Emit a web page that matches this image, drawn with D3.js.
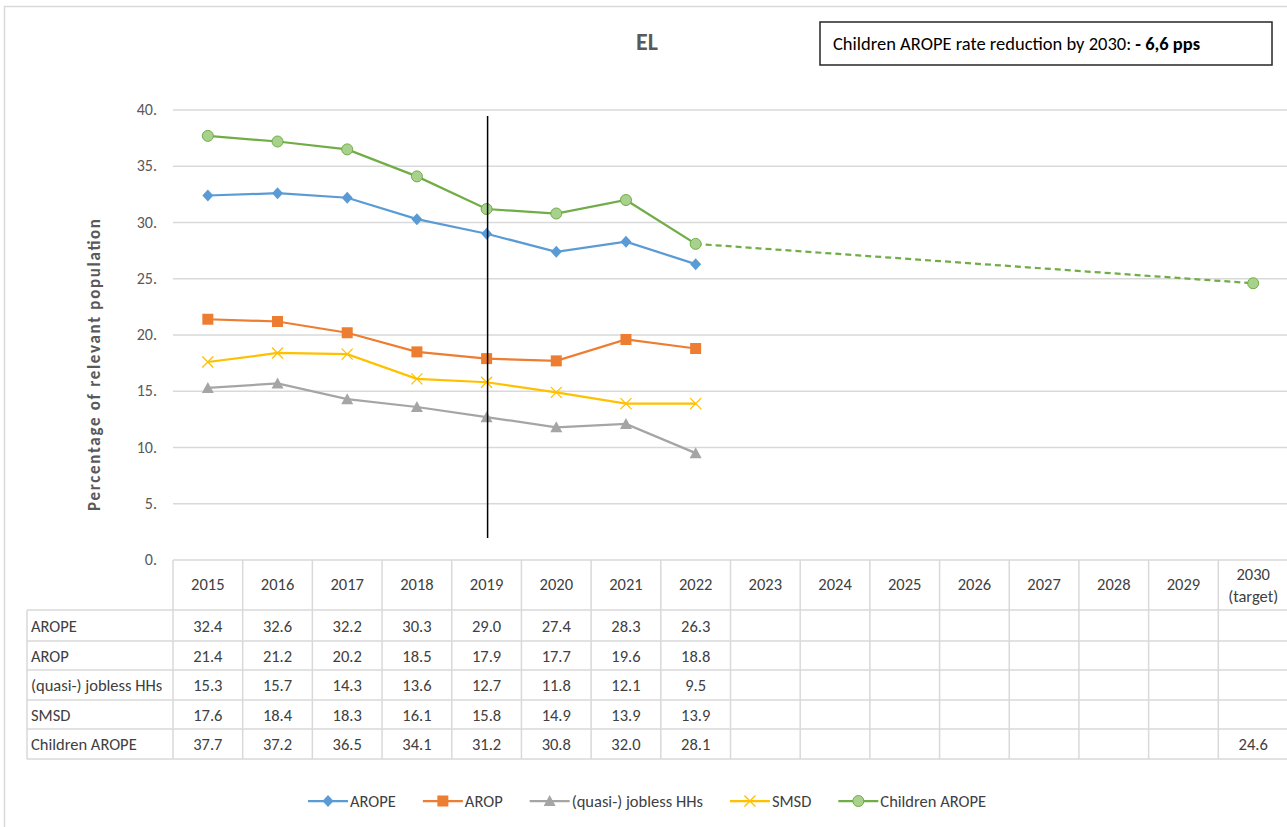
<!DOCTYPE html>
<html>
<head>
<meta charset="utf-8">
<script src="https://cdn.jsdelivr.net/npm/d3@7"></script>
<style>
  body { margin: 0; background: #fff; }
  svg { display: block; font-family: Carlito, Calibri, Lato, sans-serif; }
</style>
</head>
<body>
<div id="chart"></div>
<script>
const years = ['2015', '2016', '2017', '2018', '2019', '2020', '2021', '2022',
  '2023', '2024', '2025', '2026', '2027', '2028', '2029', '2030'];
const yTicks = [0, 5, 10, 15, 20, 25, 30, 35, 40];

const arope = [32.4, 32.6, 32.2, 30.3, 29.0, 27.4, 28.3, 26.3];
const arop = [21.4, 21.2, 20.2, 18.5, 17.9, 17.7, 19.6, 18.8];
const jobless = [15.3, 15.7, 14.3, 13.6, 12.7, 11.8, 12.1, 9.5];
const smsd = [17.6, 18.4, 18.3, 16.1, 15.8, 14.9, 13.9, 13.9];
const children = [37.7, 37.2, 36.5, 34.1, 31.2, 30.8, 32.0, 28.1];
const childrenTarget = 24.6;
const targetYear = '2030';
const markerYear = '2019';

const series = [
  { name: 'AROPE', values: arope, color: '#5B9BD5', symbol: 'diamond' },
  { name: 'AROP', values: arop, color: '#ED7D31', symbol: 'square' },
  { name: '(quasi-) jobless HHs', values: jobless, color: '#A5A5A5', symbol: 'triangle' },
  { name: 'SMSD', values: smsd, color: '#FFC000', symbol: 'cross' },
  { name: 'Children AROPE', values: children, color: '#70AD47', symbol: 'circle' }
];

const width = 1287;
const height = 827;
const textColor = '#404040';
const gridColor = '#d9d9d9';
const fs = 16.5;

const svg = d3.select('#chart').append('svg')
  .attr('width', width)
  .attr('height', height);

// outer chart frame
svg.append('rect')
  .attr('x', 4.5).attr('y', 6.5)
  .attr('width', width + 10).attr('height', height + 10)
  .attr('fill', 'none').attr('stroke', gridColor).attr('stroke-width', 1.5);

const x = d3.scaleBand().domain(years).range([173, 1288]);
const cx = yr => x(yr) + x.bandwidth() / 2;
const y = d3.scaleLinear().domain([0, 40]).range([560, 110]);

// gridlines
svg.append('g')
  .selectAll('line')
  .data(yTicks.filter(d => d > 0))
  .join('line')
  .attr('x1', 173).attr('x2', width)
  .attr('y1', d => y(d)).attr('y2', d => y(d))
  .attr('stroke', gridColor).attr('stroke-width', 1.3);

// y labels
svg.append('g')
  .selectAll('text')
  .data(yTicks)
  .join('text')
  .attr('x', 157)
  .attr('y', d => y(d) + 5)
  .attr('text-anchor', 'end')
  .attr('font-size', 16)
  .attr('fill', '#595959')
  .text(d => d + '.');

svg.append('text')
  .attr('transform', 'translate(100,365) rotate(-90)')
  .attr('text-anchor', 'middle')
  .attr('font-size', 17)
  .attr('font-weight', 'bold')
  .attr('fill', '#595959')
  .attr('textLength', 292)
  .attr('lengthAdjust', 'spacing')
  .text('Percentage of relevant population');

// title
svg.append('text')
  .attr('x', 647).attr('y', 50)
  .attr('text-anchor', 'middle')
  .attr('font-size', 24)
  .attr('font-weight', 'bold')
  .attr('fill', '#595959')
  .text('EL');

svg.append('rect')
  .attr('x', 820).attr('y', 22)
  .attr('width', 452).attr('height', 43)
  .attr('fill', '#fff').attr('stroke', '#262626').attr('stroke-width', 1.5);

const note = svg.append('text')
  .attr('x', 833).attr('y', 50)
  .attr('font-size', 18.5)
  .attr('fill', '#000');
note.append('tspan').text('Children AROPE rate reduction by 2030: ');
note.append('tspan').attr('font-weight', 'bold').text('- 6,6 pps');

// table
const rowTops = [610, 641, 670, 700, 729];
const rowH = [31, 29, 30, 29, 30];
const table = svg.append('g');
const tableLine = (x1, y1, x2, y2) => table.append('line')
  .attr('x1', x1).attr('y1', y1).attr('x2', x2).attr('y2', y2)
  .attr('stroke', gridColor).attr('stroke-width', 1.5);

tableLine(173, 560, width + 5, 560);
rowTops.forEach(t => tableLine(27, t, width + 5, t));
tableLine(27, 759, width + 5, 759);
tableLine(27, 610, 27, 759);
years.forEach(yr => tableLine(x(yr), 560, x(yr), 759));

table.selectAll('.hdr')
  .data(years)
  .join('text')
  .attr('class', 'hdr')
  .attr('x', d => cx(d))
  .attr('y', d => d === targetYear ? 580 : 590)
  .attr('text-anchor', 'middle')
  .attr('font-size', fs)
  .attr('fill', textColor)
  .text(d => d);

table.append('text')
  .attr('x', cx(targetYear)).attr('y', 602)
  .attr('text-anchor', 'middle')
  .attr('font-size', fs)
  .attr('fill', textColor)
  .text('(target)');

series.forEach((s, i) => {
  const base = rowTops[i] + rowH[i] / 2 + 6;
  table.append('text')
    .attr('x', 31).attr('y', base)
    .attr('font-size', fs)
    .attr('fill', textColor)
    .text(s.name);
  table.selectAll(null)
    .data(s.values)
    .join('text')
    .attr('x', (d, j) => cx(years[j]))
    .attr('y', base)
    .attr('text-anchor', 'middle')
    .attr('font-size', fs)
    .attr('fill', textColor)
    .text(d => d.toFixed(1));
});
table.append('text')
  .attr('x', cx(targetYear)).attr('y', rowTops[4] + rowH[4] / 2 + 6)
  .attr('text-anchor', 'middle')
  .attr('font-size', fs)
  .attr('fill', textColor)
  .text(childrenTarget.toFixed(1));

// markers
const drawMarker = (g, s, px, py) => {
  if (s.symbol === 'diamond') {
    g.append('path')
      .attr('d', `M${px},${py - 6}L${px + 5.5},${py}L${px},${py + 6}L${px - 5.5},${py}Z`)
      .attr('fill', s.color);
  } else if (s.symbol === 'square') {
    g.append('rect')
      .attr('x', px - 5.5).attr('y', py - 5.5).attr('width', 11).attr('height', 11)
      .attr('fill', s.color);
  } else if (s.symbol === 'triangle') {
    g.append('path')
      .attr('d', `M${px},${py - 6}L${px + 6},${py + 5}L${px - 6},${py + 5}Z`)
      .attr('fill', s.color);
  } else if (s.symbol === 'cross') {
    g.append('path')
      .attr('d', `M${px - 5.5},${py - 5.5}L${px + 5.5},${py + 5.5}M${px - 5.5},${py + 5.5}L${px + 5.5},${py - 5.5}`)
      .attr('stroke', s.color).attr('stroke-width', 1.3);
  } else {
    g.append('circle')
      .attr('cx', px).attr('cy', py).attr('r', 5.5)
      .attr('fill', '#A9D18E').attr('stroke', s.color).attr('stroke-width', 1);
  }
};

const line = d3.line()
  .x((d, j) => cx(years[j]))
  .y(d => y(d));

const plot = svg.append('g');

// projection to 2030 target
const last = children.length - 1;
plot.append('line')
  .attr('x1', cx(years[last])).attr('y1', y(children[last]))
  .attr('x2', cx(targetYear)).attr('y2', y(childrenTarget))
  .attr('stroke', '#70AD47').attr('stroke-width', 2.25)
  .attr('stroke-dasharray', '6,4');

series.forEach(s => {
  const g = plot.append('g');
  g.append('path')
    .datum(s.values)
    .attr('d', line)
    .attr('fill', 'none')
    .attr('stroke', s.color)
    .attr('stroke-width', 2.25);
  s.values.forEach((v, j) => drawMarker(g, s, cx(years[j]), y(v)));
});
drawMarker(plot, series[4], cx(targetYear), y(childrenTarget));

// vertical line at 2019
plot.append('line')
  .attr('x1', cx(markerYear) + 1).attr('x2', cx(markerYear) + 1)
  .attr('y1', 116).attr('y2', 538)
  .attr('stroke', '#000').attr('stroke-width', 1.5);

// legend
const legend = svg.append('g');
let lx = 308;
series.forEach(s => {
  const g = legend.append('g');
  g.append('line')
    .attr('x1', lx).attr('x2', lx + 40)
    .attr('y1', 801).attr('y2', 801)
    .attr('stroke', s.color).attr('stroke-width', 2.25);
  drawMarker(g, s, lx + 20, 801);
  const t = g.append('text')
    .attr('x', lx + 42).attr('y', 807)
    .attr('font-size', fs)
    .attr('fill', textColor)
    .text(s.name);
  lx += 42 + t.node().getComputedTextLength() + 27;
});
</script>
</body>
</html>
